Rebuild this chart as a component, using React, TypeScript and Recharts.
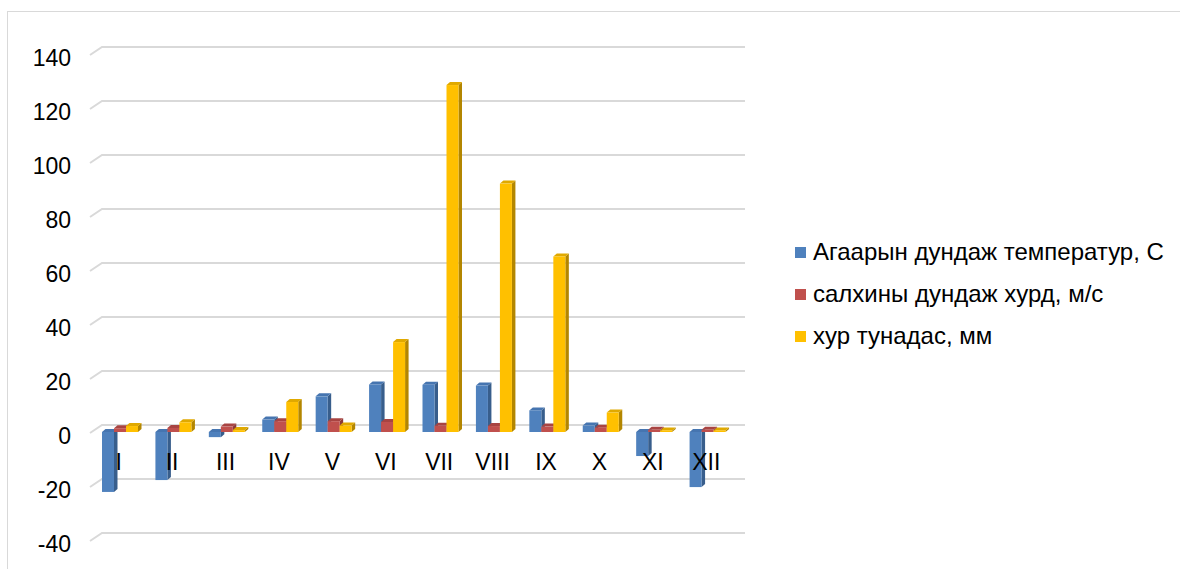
import { BarChart, Bar, XAxis, YAxis, CartesianGrid, Legend, ReferenceDot } from 'recharts'

// Monthly climate summary
const months = ['I', 'II', 'III', 'IV', 'V', 'VI', 'VII', 'VIII', 'IX', 'X', 'XI', 'XII']
const temperature = [-22.2, -17.8, -1.9, 4.6, 13.2, 17.6, 17.5, 17.2, 8, 2.4, -8.9, -20.4]
const windSpeed = [1.4, 1.5, 2, 4, 4, 3.7, 2.3, 2.2, 2, 1.6, 0.8, 0.8]
const precipitation = [2.2, 3.6, 0.7, 11.1, 2.4, 33.3, 128.5, 92, 65, 7.2, 0.6, 0.6]
const yTicks = [-40, -20, 0, 20, 40, 60, 80, 100, 120, 140]

const seriesNames = {
  temperature: 'Агаарын дундаж температур, С',
  wind: 'салхины дундаж хурд, м/с',
  precipitation: 'хур тунадас, мм',
}

const data = months.map((month, i) => ({
  month,
  temperature: temperature[i],
  wind: windSpeed[i],
  precipitation: precipitation[i],
}))

const FONT = '"Liberation Sans", Arial, sans-serif'
const FONT_SIZE = 23
const DX = 3.5
const DY = 3
const LEGEND_WIDTH = 385

type Faces = { front: string; side: string; top: string }

const blue: Faces = { front: '#4f81bd', side: '#385e8c', top: '#4675b0' }
const red: Faces = { front: '#c0504d', side: '#8c3a38', top: '#a84442' }
const yellow: Faces = { front: '#ffc000', side: '#b38600', top: '#e0a900' }

// simple extruded column: front face, right side and top cap
function Column3D(props: any) {
  const { x, y, width, height, faces } = props
  if (x == null || y == null) return null
  const top = Math.min(y, y + height)
  const h = Math.abs(height)
  const w = width
  const r = x + w
  return (
    <g>
      <polygon
        points={`${r},${top} ${r + DX},${top - DY} ${r + DX},${top + h - DY} ${r},${top + h}`}
        fill={faces.side}
      />
      <polygon
        points={`${x},${top} ${x + DX},${top - DY} ${r + DX},${top - DY} ${r},${top}`}
        fill={faces.top}
      />
      <rect x={x} y={top} width={w} height={h} fill={faces.front} />
    </g>
  )
}

// gridline with a short slanted floor edge on the left
function GridLine(p: any) {
  const { x1, y1, x2 } = p
  return (
    <path
      key={p.key}
      d={`M${x1 - 4},${y1 + 1} L${x1 + 8},${y1 - 7} L${x2 + 10},${y1 - 7}`}
      fill="none"
      stroke="#d9d9d9"
      strokeWidth={2}
    />
  )
}

function ValueTick({ x, y, payload }: any) {
  return (
    <text
      x={x}
      y={y + 4}
      textAnchor="end"
      dominantBaseline="central"
      fontFamily={FONT}
      fontSize={FONT_SIZE}
      fill="#000"
    >
      {payload.value}
    </text>
  )
}

function LegendList({ payload }: any) {
  return (
    <div style={{ fontFamily: FONT, fontSize: 24, color: '#000' }}>
      {(payload || []).map((item: any) => (
        <div
          key={item.value}
          style={{ display: 'flex', alignItems: 'center', height: 42, whiteSpace: 'nowrap' }}
        >
          <span
            style={{ width: 11, height: 11, background: item.color, marginRight: 7, display: 'inline-block' }}
          />
          {item.value}
        </div>
      ))}
    </div>
  )
}

export default function App() {
  return (
    <div style={{ position: 'absolute', left: 0, top: 0, width: 1180, height: 569, background: '#fff', overflow: 'hidden' }}>
      <div
        style={{
          position: 'absolute',
          left: 7,
          top: 11,
          width: 1180,
          height: 600,
          border: '1.5px solid #d9d9d9',
          boxSizing: 'border-box',
        }}
      />
      <BarChart
        width={1180}
        height={569}
        data={data}
        // the legend box width is reserved on the right by the chart itself
        margin={{ top: 54, right: 445 - LEGEND_WIDTH, bottom: 29, left: 0 }}
        barCategoryGap={8}
        barGap={0}
        style={{ position: 'absolute', left: 0, top: 0 }}
      >
        <CartesianGrid vertical={false} horizontal={GridLine} />
        <XAxis dataKey="month" hide />
        <YAxis
          width={94}
          domain={[-40, 140]}
          ticks={yTicks}
          axisLine={false}
          tickLine={false}
          tickSize={0}
          tickMargin={23}
          tick={<ValueTick />}
          interval={0}
        />
        <Legend
          layout="horizontal"
          verticalAlign="middle"
          align="right"
          content={<LegendList />}
          wrapperStyle={{ position: 'absolute', left: 795, top: 231, width: LEGEND_WIDTH }}
        />
        <Bar
          dataKey="temperature"
          name={seriesNames.temperature}
          fill={blue.front}
          isAnimationActive={false}
          shape={(p: any) => <Column3D {...p} faces={blue} />}
        />
        <Bar
          dataKey="wind"
          name={seriesNames.wind}
          fill={red.front}
          isAnimationActive={false}
          shape={(p: any) => <Column3D {...p} faces={red} />}
        />
        <Bar
          dataKey="precipitation"
          name={seriesNames.precipitation}
          fill={yellow.front}
          isAnimationActive={false}
          shape={(p: any) => <Column3D {...p} faces={yellow} />}
        />
        {months.map((m) => (
          <ReferenceDot
            key={m}
            x={m}
            y={0}
            r={0}
            ifOverflow="visible"
            shape={(p: any) => (
              <text
                x={p.cx - 2}
                y={p.cy + 30}
                textAnchor="middle"
                dominantBaseline="central"
                fontFamily={FONT}
                fontSize={FONT_SIZE}
                fill="#000"
              >
                {m}
              </text>
            )}
          />
        ))}
      </BarChart>
    </div>
  )
}
